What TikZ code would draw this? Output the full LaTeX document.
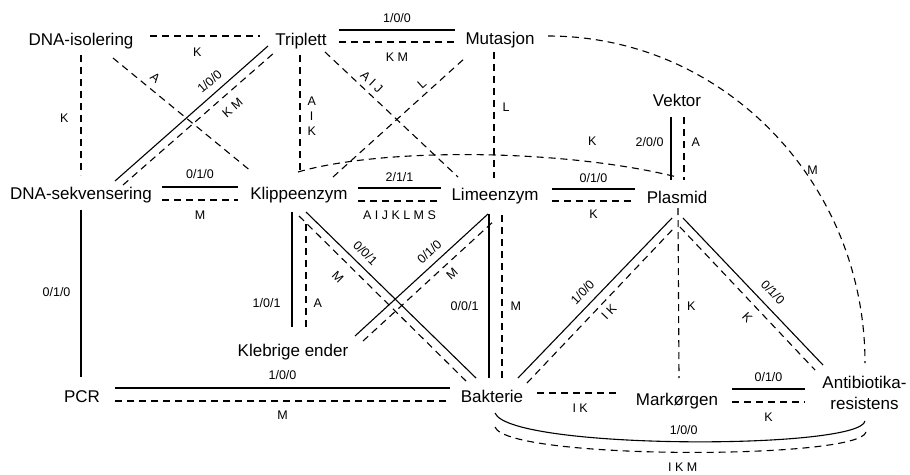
\documentclass[tikz,border=0pt]{standalone}
\usepackage{fontspec}
\setmainfont{Liberation Sans}
\begin{document}
\begin{tikzpicture}[x=1pt,y=-1pt,
  concept/.style={font=\fontsize{17}{21}\selectfont, inner sep=0pt, anchor=base},
  lab/.style={font=\fontsize{12.5}{15}\selectfont, inner sep=2pt},
  sol/.style={line width=1.1pt},
  dsh/.style={line width=1.1pt, dash pattern=on 7pt off 5pt},
]
\fill[white] (0,0) rectangle (910,474);
\useasboundingbox (0,0) rectangle (910,474);

% concepts
\node[concept] (iso) at (81,45) {DNA-isolering};
\node[concept] (tri) at (301,45) {Triplett};
\node[concept] (mut) at (500,44) {Mutasjon};
\node[concept] (vek) at (677,106) {Vektor};
\node[concept] (pla) at (677,203) {Plasmid};
\node[concept] (seq) at (81,199) {DNA-sekvensering};
\node[concept] (kli) at (299,199) {Klippeenzym};
\node[concept] (lim) at (495,200) {Limeenzym};
\node[concept] (kle) at (293,356) {Klebrige ender};
\node[concept] (pcr) at (82,402) {PCR};
\node[concept] (bak) at (492,402) {Bakterie};
\node[concept] (mark) at (677,405) {Markørgen};
\node[concept, anchor=center, align=center] (anti) at (864.5,393) {Antibiotika-\\resistens};

% DNA-isolering
\draw[dsh] ([shift={(69,-9)}]iso.base) -- node[lab,below=9.5pt,pos=0.43]{K} ([shift={(-41,-9)}]tri.base);
\draw[dsh] ([shift={(0,10)}]iso.base) -- node[lab,left=10pt,pos=0.53]{K} ([shift={(0,-24)}]seq.base);
\draw[dsh] ([shift={(32,13)}]iso.base) -- node[lab,sloped,above=5pt,pos=0.25]{A} ([shift={(-47,-27)}]kli.base);

% Triplett
\draw[sol] ([shift={(34,-18)}]seq.base) -- node[lab,sloped,above=5pt,pos=0.67]{1/0/0} ([shift={(-33,1)}]tri.base);
\draw[dsh] ([shift={(42,-14)}]seq.base) -- node[lab,sloped,below=7pt,pos=0.66]{K M} ([shift={(-26,7)}]tri.base);
\draw[sol] ([shift={(38,-15)}]tri.base) -- node[lab,above=4.5pt]{1/0/0} ([shift={(-45,-14)}]mut.base);
\draw[dsh] ([shift={(38,-3)}]tri.base) -- node[lab,below=8.5pt]{K M} ([shift={(-45,-2)}]mut.base);
\draw[dsh] ([shift={(-1,10)}]tri.base) -- node[lab,right=5pt,pos=0.52,align=center,font=\fontsize{12.5}{15}\selectfont]{A\\I\\K} ([shift={(1,-27)}]kli.base);
\draw[dsh] ([shift={(24,7)}]tri.base) -- node[lab,sloped,above=3pt,pos=0.30]{A I J} ([shift={(-37,-23)}]lim.base);

% Mutasjon
\draw[dsh] ([shift={(34,-22)}]kli.base) -- node[lab,sloped,above=2.5pt,pos=0.72]{L} ([shift={(-35,14)}]mut.base);
\draw[dsh] ([shift={(-6,8)}]mut.base) -- node[lab,right=6pt,pos=0.44]{L} ([shift={(-1,-22)}]lim.base);
\draw[dsh] ([shift={(48,-8)}]mut.base) .. controls +(175,0) and +(0,-181) .. node[lab,pos=0.6,right=1pt]{M} ([shift={(0.5,-30)}]anti.center);

% Klippeenzym - Plasmid arc
\draw[dsh] ([shift={(-1,-27)}]kli.base) .. controls +(82,-24) and +(-117,-29) .. node[lab,pos=0.78,above=13.5pt]{K} ([shift={(0,-26)}]pla.base);

% Vektor - Plasmid
\draw[sol] ([shift={(-6,11)}]vek.base) -- node[lab,left=5pt,pos=0.4]{2/0/0} ([shift={(-6,-23)}]pla.base);
\draw[dsh] ([shift={(7,11)}]vek.base) -- node[lab,right=5pt,pos=0.4]{A} ([shift={(7,-23)}]pla.base);

% DNA-sekvensering
\draw[sol] ([shift={(81,-12)}]seq.base) -- node[lab,above=5.5pt]{0/1/0} ([shift={(-61,-12)}]kli.base);
\draw[dsh] ([shift={(81,1)}]seq.base) -- node[lab,below=8.5pt]{M} ([shift={(-61,1)}]kli.base);
\draw[sol] ([shift={(0,11)}]seq.base) -- node[lab,left=8pt,pos=0.49]{0/1/0} ([shift={(-1,-25)}]pcr.base);

% Klippeenzym - Limeenzym
\draw[sol] ([shift={(59,-11)}]kli.base) -- node[lab,above=3.5pt]{2/1/1} ([shift={(-54,-12)}]lim.base);
\draw[dsh] ([shift={(59,2)}]kli.base) -- node[lab,below=7pt]{A I J K L M S} ([shift={(-54,1)}]lim.base);

% Limeenzym - Plasmid
\draw[sol] ([shift={(57,-11)}]lim.base) -- node[lab,above=3.5pt]{0/1/0} ([shift={(-42,-14)}]pla.base);
\draw[dsh] ([shift={(57,1)}]lim.base) -- node[lab,below=6.5pt]{K} ([shift={(-42,-2)}]pla.base);

% Klippeenzym - Klebrige ender
\draw[sol] ([shift={(-7,13)}]kli.base) -- node[lab,left=9pt,pos=0.79]{1/0/1} ([shift={(-1,-29)}]kle.base);
\draw[dsh] ([shift={(7,25)}]kli.base) -- node[lab,right=5pt,pos=0.77]{A} ([shift={(13,-29)}]kle.base);

% Klippeenzym - Bakterie
\draw[sol] ([shift={(7,13)}]kli.base) -- node[lab,sloped,above=5pt,pos=0.30]{0/0/1} ([shift={(-16,-24)}]bak.base);
\draw[dsh] ([shift={(0,17)}]kli.base) -- node[lab,sloped,below=9pt,pos=0.30]{M} ([shift={(-26,-21)}]bak.base);

% Klebrige ender - Limeenzym
\draw[sol] ([shift={(62,-20)}]kle.base) -- node[lab,sloped,above=5pt,pos=0.62]{0/1/0} ([shift={(-7,14)}]lim.base);
\draw[dsh] ([shift={(70,-15)}]kle.base) -- node[lab,sloped,below=4pt,pos=0.62]{M} ([shift={(0,20)}]lim.base);

% Limeenzym - Bakterie
\draw[sol] ([shift={(-6,14)}]lim.base) -- node[lab,left=8pt,pos=0.56]{0/0/1} ([shift={(-3,-24)}]bak.base);
\draw[dsh] ([shift={(7,15)}]lim.base) -- node[lab,right=6pt,pos=0.56]{M} ([shift={(10,-24)}]bak.base);

% PCR - Bakterie
\draw[sol] ([shift={(33,-14)}]pcr.base) -- node[lab,above=5.5pt]{1/0/0} ([shift={(-42,-14)}]bak.base);
\draw[dsh] ([shift={(33,-1)}]pcr.base) -- node[lab,below=7.5pt]{M} ([shift={(-42,-1)}]bak.base);

% Bakterie - Plasmid
\draw[sol] ([shift={(26,-24)}]bak.base) -- node[lab,sloped,above=6pt,pos=0.48]{1/0/0} ([shift={(-5,15)}]pla.base);
\draw[dsh] ([shift={(35,-19)}]bak.base) -- node[lab,sloped,below=4pt,pos=0.50]{I K} ([shift={(-2,24)}]pla.base);

% Plasmid - Antibiotika-resistens
\draw[sol] ([shift={(6,15)}]pla.base) -- node[lab,sloped,above=7pt,pos=0.57]{0/1/0} ([shift={(-41.5,-28)}]anti.center);
\draw[dsh] ([shift={(3,24)}]pla.base) -- node[lab,sloped,below=6.5pt,pos=0.57]{K} ([shift={(-49.5,-23)}]anti.center);

% Plasmid - Markørgen
\draw[dsh] ([shift={(1,5)}]pla.base) -- node[lab,right=6pt,pos=0.58]{K} ([shift={(2,-27)}]mark.base);

% Bakterie - Markørgen
\draw[dsh] ([shift={(45,-9)}]bak.base) -- node[lab,below=8.5pt,pos=0.52]{I K} ([shift={(-57,-12)}]mark.base);

% Markørgen - Antibiotika-resistens
\draw[sol] ([shift={(55,-16)}]mark.base) -- node[lab,above=4.5pt]{0/1/0} ([shift={(-59.5,-4)}]anti.center);
\draw[dsh] ([shift={(55,-3)}]mark.base) -- node[lab,below=8.5pt]{K} ([shift={(-59.5,9)}]anti.center);

% Bakterie - Antibiotika-resistens
\draw[sol] ([shift={(3,11)}]bak.base) .. controls +(15,37) and +(-5,29) .. node[lab,pos=0.5,above=4.5pt]{1/0/0} ([shift={(0.5,28)}]anti.center);
\draw[dsh] ([shift={(3,25)}]bak.base) .. controls +(12,33) and +(-6,28) .. node[lab,pos=0.5,below=7.5pt]{I K M} ([shift={(1.5,39)}]anti.center);
\end{tikzpicture}
\end{document}
